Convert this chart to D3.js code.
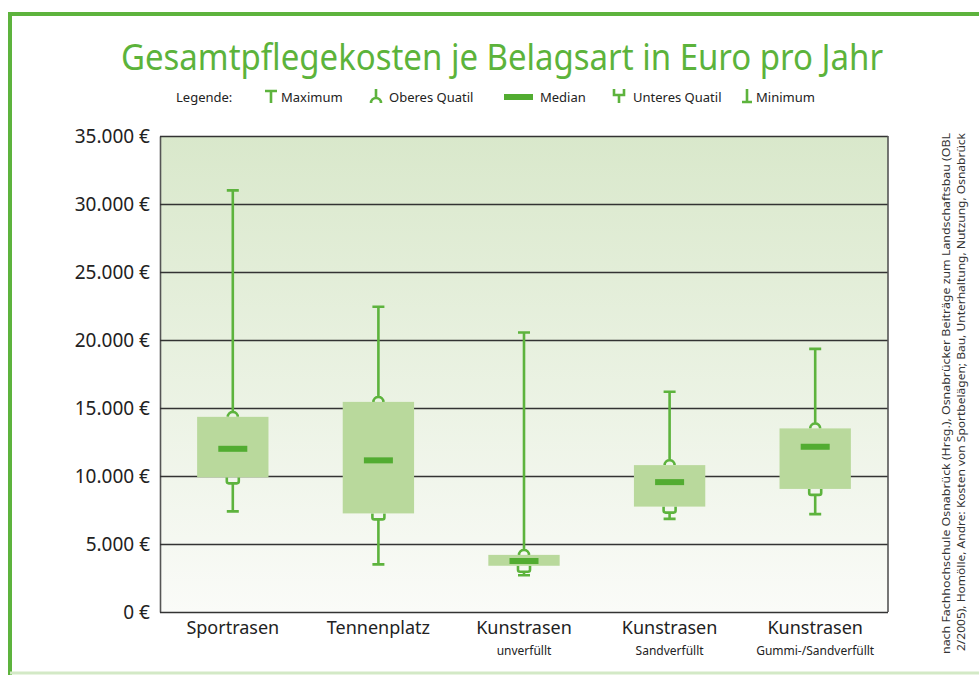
<!DOCTYPE html>
<html>
<head>
<meta charset="utf-8">
<script src="https://cdn.jsdelivr.net/npm/d3@7"></script>
<style>
  body { margin: 0; background: #fff; }
  svg { display: block; font-family: "Noto Sans", "Open Sans", sans-serif; }
</style>
</head>
<body>
<svg id="chart" width="979" height="675"></svg>
<script>
// DATA
const categories = ["Sportrasen", "Tennenplatz", "Kunstrasen", "Kunstrasen", "Kunstrasen"];
const subLabels = ["", "", "unverfüllt", "Sandverfüllt", "Gummi-/Sandverfüllt"];
const maxima = [31000, 22450, 20550, 16200, 19350];
const upperQ = [14350, 15450, 4200, 10800, 13500];
const medians = [12000, 11150, 3750, 9550, 12150];
const lowerQ = [9900, 7250, 3400, 7750, 9050];
const minima = [7400, 3500, 2700, 6850, 7200];
const yTicks = [0, 5000, 10000, 15000, 20000, 25000, 30000, 35000];

const green = "#5db33d";
const darkGreen = "#52ac31";
const boxFill = "#b9d99c";

const svg = d3.select("#chart");
const plotLeft = 160, plotRight = 888, plotTop = 136, plotBottom = 612;

// FRAME
svg.append("line").attr("x1", 8).attr("x2", 979).attr("y1", 14).attr("y2", 14)
  .attr("stroke", green).attr("stroke-width", 4);
svg.append("line").attr("x1", 10).attr("x2", 10).attr("y1", 12).attr("y2", 675)
  .attr("stroke", green).attr("stroke-width", 4);
svg.append("line").attr("x1", 10).attr("x2", 979).attr("y1", 673).attr("y2", 673)
  .attr("stroke", "#d3e9c6").attr("stroke-width", 3);

// TITLE
svg.append("text").attr("x", 502).attr("y", 70).attr("text-anchor", "middle")
  .attr("font-size", 36).attr("fill", "#5cb33b")
  .attr("textLength", 762).attr("lengthAdjust", "spacingAndGlyphs")
  .text("Gesamtpflegekosten je Belagsart in Euro pro Jahr");

// LEGEND
const lg = svg.append("g").attr("font-size", 13).attr("fill", "#222");
lg.append("text").attr("x", 176).attr("y", 102).text("Legende:");
const sym = (d) => lg.append("path").attr("d", d).attr("fill", "none").attr("stroke", green).attr("stroke-width", 2.6);
sym("M265,91H277M271,91V103");
lg.append("text").attr("x", 281).attr("y", 102).text("Maximum");
sym("M376,89V97M371,103A5,5 0 0 1 381,103");
lg.append("text").attr("x", 389).attr("y", 102).text("Oberes Quatil");
lg.append("rect").attr("x", 504).attr("y", 94).attr("width", 29).attr("height", 6).attr("fill", darkGreen);
lg.append("text").attr("x", 540).attr("y", 102).text("Median");
sym("M614,89V95H624V89M619,95V103");
lg.append("text").attr("x", 633).attr("y", 102).text("Unteres Quatil");
sym("M747,89V102M742,102H752");
lg.append("text").attr("x", 756).attr("y", 102).text("Minimum");

// SCALES
const keys = categories.map((c, i) => c + " " + subLabels[i]);
const x = d3.scaleBand().domain(keys).range([plotLeft, plotRight]).padding(0);
const y = d3.scaleLinear().domain([0, 35000]).range([plotBottom, plotTop]);
const boxW = x.bandwidth() * 0.49;

// BACKGROUND GRADIENT
const grad = svg.append("defs").append("linearGradient").attr("id", "bg")
  .attr("x1", 0).attr("x2", 0).attr("y1", 0).attr("y2", 1);
grad.append("stop").attr("offset", "0%").attr("stop-color", "#d9e8cb");
grad.append("stop").attr("offset", "100%").attr("stop-color", "#fafbf8");
svg.append("rect").attr("x", plotLeft).attr("y", plotTop).attr("width", plotRight - plotLeft).attr("height", plotBottom - plotTop)
  .attr("fill", "url(#bg)");

// Y AXIS + GRIDLINES
const fmt = (v) => d3.format(",")(v).replace(/,/g, ".") + " €";
const yAxis = svg.append("g").attr("transform", `translate(${plotLeft},0)`)
  .call(d3.axisLeft(y).tickValues(yTicks).tickFormat(fmt).tickSizeInner(-(plotRight - plotLeft)).tickSizeOuter(0).tickPadding(10));
yAxis.selectAll(".tick line").attr("stroke", "#333").attr("stroke-width", 1.6);
yAxis.select(".domain").attr("stroke", "#555").attr("stroke-width", 1.6);
yAxis.selectAll(".tick text").attr("font-size", 19).attr("fill", "#222")
  .attr("font-family", "'Noto Sans', sans-serif");
svg.append("line").attr("x1", plotRight).attr("x2", plotRight).attr("y1", plotTop).attr("y2", plotBottom)
  .attr("stroke", "#555").attr("stroke-width", 1.6);

// BOXES
const rows = keys.map((k, i) => ({ k, max: maxima[i], q3: upperQ[i], med: medians[i], q1: lowerQ[i], min: minima[i] }));
const boxes = svg.append("g").selectAll("g.box").data(rows).enter().append("g").attr("class", "box");
const cx = (d) => x(d.k) + x.bandwidth() / 2;

boxes.append("path").attr("fill", "none").attr("stroke", green).attr("stroke-width", 2.6)
  .attr("d", (d) => {
    const c = cx(d), t = y(d.q3), b = y(d.q1);
    return `M${c - 6},${y(d.max)}H${c + 6}M${c},${y(d.max)}V${t - 5}` +
      `M${c - 5},${t}A5,5 0 0 1 ${c + 5},${t}` +
      `M${c - 6},${b}V${b + 4}Q${c - 6},${b + 6} ${c - 4},${b + 6}H${c + 4}Q${c + 6},${b + 6} ${c + 6},${b + 4}V${b}` +
      `M${c},${b + 6}V${y(d.min)}M${c - 6},${y(d.min)}H${c + 6}`;
  });
boxes.append("rect").attr("x", (d) => cx(d) - boxW / 2).attr("y", (d) => y(d.q3))
  .attr("width", boxW).attr("height", (d) => y(d.q1) - y(d.q3)).attr("fill", boxFill);
boxes.append("rect").attr("x", (d) => cx(d) - 14.5).attr("y", (d) => y(d.med) - 3)
  .attr("width", 29).attr("height", 6).attr("fill", darkGreen);

// X LABELS
const xl = svg.append("g").selectAll("g").data(keys).enter().append("g")
  .attr("transform", (k) => `translate(${x(k) + x.bandwidth() / 2},0)`);
xl.append("text").attr("y", 634).attr("text-anchor", "middle").attr("font-size", 18).attr("fill", "#222")
  .text((k, i) => categories[i]);
xl.append("text").attr("y", 655).attr("text-anchor", "middle").attr("font-size", 12).attr("fill", "#222")
  .text((k, i) => subLabels[i]);

// SOURCE
const src = svg.append("g").attr("font-size", 11.5).attr("fill", "#333");
src.append("text").attr("transform", "translate(950,654) rotate(-90)")
  .attr("textLength", 521).attr("lengthAdjust", "spacingAndGlyphs")
  .text("nach Fachhochschule Osnabrück (Hrsg.),  Osnabrücker Beiträge zum Landschaftsbau (OBL");
src.append("text").attr("transform", "translate(965,651) rotate(-90)")
  .attr("textLength", 518).attr("lengthAdjust", "spacingAndGlyphs")
  .text("2/2005), Homölle, Andre: Kosten von Sportbelägen; Bau, Unterhaltung, Nutzung, Osnabrück");
</script>
</body>
</html>
